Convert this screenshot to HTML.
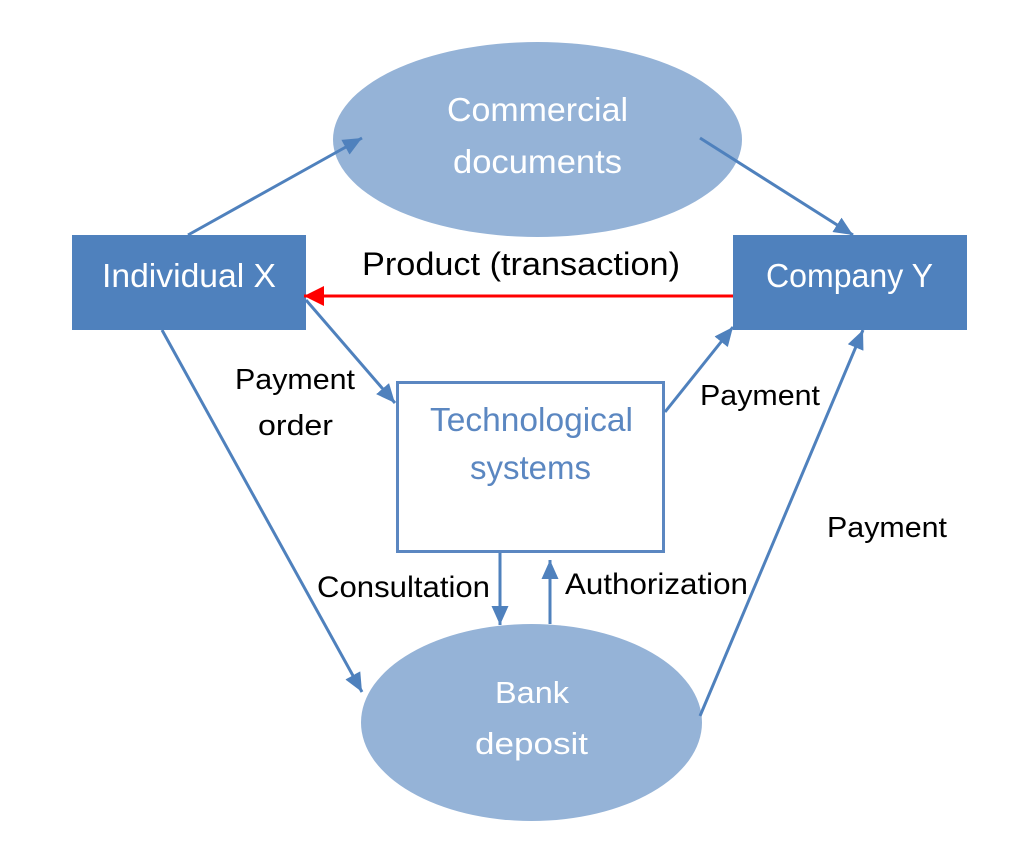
<!DOCTYPE html>
<html>
<head>
<meta charset="utf-8">
<style>
  html, body { margin:0; padding:0; background:#ffffff; }
  svg { display:block; }
  text { font-family: "Liberation Sans", sans-serif; }
</style>
</head>
<body>
<svg width="1024" height="868" viewBox="0 0 1024 868" xmlns="http://www.w3.org/2000/svg">
  <defs>
    <marker id="ab" markerUnits="userSpaceOnUse" markerWidth="20" markerHeight="20" viewBox="0 0 20 20" refX="19" refY="10" orient="auto">
      <path d="M0,1.5 L19,10 L0,18.5 z" fill="#4f81bd"/>
    </marker>
    <marker id="ar" markerUnits="userSpaceOnUse" markerWidth="22" markerHeight="22" viewBox="0 0 22 22" refX="20" refY="11" orient="auto">
      <path d="M0,1 L20,11 L0,21 z" fill="#ff0000"/>
    </marker>
  </defs>

  <rect x="0" y="0" width="1024" height="868" fill="#ffffff"/>

  <!-- Commercial documents ellipse -->
  <ellipse cx="537.5" cy="139.5" rx="204.5" ry="97.5" fill="#95b3d7"/>
  <text x="537.5" y="121" font-size="33" fill="#ffffff" text-anchor="middle" textLength="181" lengthAdjust="spacingAndGlyphs">Commercial</text>
  <text x="537.5" y="173" font-size="33" fill="#ffffff" text-anchor="middle" textLength="169" lengthAdjust="spacingAndGlyphs">documents</text>

  <!-- Individual X -->
  <rect x="72" y="235" width="234" height="95" fill="#4f81bd"/>
  <text x="189" y="287" font-size="33" fill="#ffffff" text-anchor="middle" textLength="174" lengthAdjust="spacingAndGlyphs">Individual X</text>

  <!-- Company Y -->
  <rect x="733" y="235" width="234" height="95" fill="#4f81bd"/>
  <text x="849.5" y="287" font-size="33" fill="#ffffff" text-anchor="middle" textLength="167" lengthAdjust="spacingAndGlyphs">Company Y</text>

  <!-- Technological systems -->
  <rect x="397.5" y="382.5" width="266" height="169" fill="#ffffff" stroke="#5b87c1" stroke-width="3"/>
  <text x="531.5" y="431" font-size="33" fill="#5b87c1" text-anchor="middle" textLength="203" lengthAdjust="spacingAndGlyphs">Technological</text>
  <text x="530.5" y="479" font-size="33" fill="#5b87c1" text-anchor="middle" textLength="121" lengthAdjust="spacingAndGlyphs">systems</text>

  <!-- Bank deposit -->
  <ellipse cx="531.5" cy="722.5" rx="170.5" ry="98.5" fill="#95b3d7"/>
  <text x="532" y="703" font-size="31" fill="#ffffff" text-anchor="middle" textLength="74" lengthAdjust="spacingAndGlyphs">Bank</text>
  <text x="531.5" y="754" font-size="31" fill="#ffffff" text-anchor="middle" textLength="113" lengthAdjust="spacingAndGlyphs">deposit</text>

  <!-- Connectors -->
  <g stroke="#4f81bd" stroke-width="3" fill="none">
    <line x1="188" y1="235" x2="362" y2="138" marker-end="url(#ab)"/>
    <line x1="700" y1="138" x2="853" y2="235" marker-end="url(#ab)"/>
    <line x1="306" y1="300" x2="395" y2="403" marker-end="url(#ab)"/>
    <line x1="162" y1="330" x2="362" y2="692" marker-end="url(#ab)"/>
    <line x1="665" y1="412" x2="733" y2="327" marker-end="url(#ab)"/>
    <line x1="700" y1="716" x2="863" y2="330" marker-end="url(#ab)"/>
    <line x1="500" y1="553" x2="500" y2="625" marker-end="url(#ab)"/>
    <line x1="550" y1="624" x2="550" y2="560" marker-end="url(#ab)"/>
  </g>
  <line x1="733" y1="296" x2="304" y2="296" stroke="#ff0000" stroke-width="3" marker-end="url(#ar)"/>

  <!-- Labels -->
  <text x="521" y="275" font-size="32" fill="#000000" text-anchor="middle" textLength="318" lengthAdjust="spacingAndGlyphs">Product (transaction)</text>
  <text x="295" y="389" font-size="29" fill="#000000" text-anchor="middle" textLength="120" lengthAdjust="spacingAndGlyphs">Payment</text>
  <text x="295.5" y="435" font-size="29" fill="#000000" text-anchor="middle" textLength="75" lengthAdjust="spacingAndGlyphs">order</text>
  <text x="760" y="405" font-size="29" fill="#000000" text-anchor="middle" textLength="120" lengthAdjust="spacingAndGlyphs">Payment</text>
  <text x="887" y="537" font-size="29" fill="#000000" text-anchor="middle" textLength="120" lengthAdjust="spacingAndGlyphs">Payment</text>
  <text x="403.5" y="597" font-size="30" fill="#000000" text-anchor="middle" textLength="173" lengthAdjust="spacingAndGlyphs">Consultation</text>
  <text x="656.5" y="594" font-size="30" fill="#000000" text-anchor="middle" textLength="183" lengthAdjust="spacingAndGlyphs">Authorization</text>
</svg>
</body>
</html>
